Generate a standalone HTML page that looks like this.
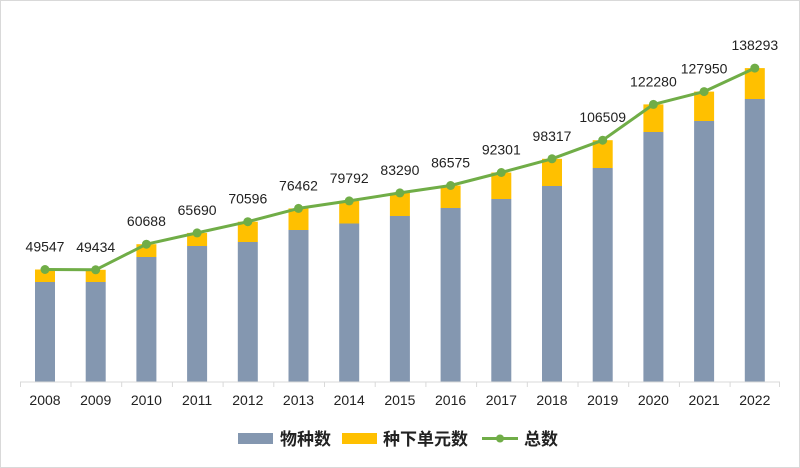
<!DOCTYPE html>
<html><head><meta charset="utf-8"><style>
html,body{margin:0;padding:0;background:#fff}
svg{display:block}
text{font-family:"Liberation Sans","Noto Sans CJK SC",sans-serif}
</style></head><body>
<svg width="800" height="468" viewBox="0 0 800 468" xmlns="http://www.w3.org/2000/svg">
<rect x="0.5" y="0.5" width="799" height="467" fill="#fff" stroke="#d9d9d9"/>
<g fill="#8497b0">
<rect x="35" y="282" width="20" height="100"/>
<rect x="85.7" y="282" width="20" height="100"/>
<rect x="136.4" y="257" width="20" height="125"/>
<rect x="187.1" y="246" width="20" height="136"/>
<rect x="237.8" y="242" width="20" height="140"/>
<rect x="288.5" y="230" width="20" height="152"/>
<rect x="339.2" y="223.5" width="20" height="158.5"/>
<rect x="389.9" y="216" width="20" height="166"/>
<rect x="440.6" y="208" width="20" height="174"/>
<rect x="491.3" y="199" width="20" height="183"/>
<rect x="542" y="186" width="20" height="196"/>
<rect x="592.7" y="168" width="20" height="214"/>
<rect x="643.4" y="132" width="20" height="250"/>
<rect x="694.1" y="121" width="20" height="261"/>
<rect x="744.8" y="99" width="20" height="283"/>
</g>
<g fill="#ffc000">
<rect x="35" y="269.5" width="20" height="12.5"/>
<rect x="85.7" y="269.8" width="20" height="12.2"/>
<rect x="136.4" y="244.2" width="20" height="12.8"/>
<rect x="187.1" y="232.9" width="20" height="13.1"/>
<rect x="237.8" y="221.7" width="20" height="20.3"/>
<rect x="288.5" y="208.4" width="20" height="21.6"/>
<rect x="339.2" y="200.9" width="20" height="22.6"/>
<rect x="389.9" y="192.9" width="20" height="23.1"/>
<rect x="440.6" y="185.5" width="20" height="22.5"/>
<rect x="491.3" y="172.5" width="20" height="26.5"/>
<rect x="542" y="158.8" width="20" height="27.2"/>
<rect x="592.7" y="140.2" width="20" height="27.8"/>
<rect x="643.4" y="104.4" width="20" height="27.6"/>
<rect x="694.1" y="91.6" width="20" height="29.4"/>
<rect x="744.8" y="68.1" width="20" height="30.9"/>
</g>
<g stroke="#d9d9d9" stroke-width="1">
<line x1="20" y1="382" x2="780" y2="382"/>
<line x1="20.5" y1="382" x2="20.5" y2="387"/>
<line x1="71" y1="382" x2="71" y2="387"/>
<line x1="121.7" y1="382" x2="121.7" y2="387"/>
<line x1="172.4" y1="382" x2="172.4" y2="387"/>
<line x1="223.1" y1="382" x2="223.1" y2="387"/>
<line x1="273.8" y1="382" x2="273.8" y2="387"/>
<line x1="324.5" y1="382" x2="324.5" y2="387"/>
<line x1="375.2" y1="382" x2="375.2" y2="387"/>
<line x1="425.9" y1="382" x2="425.9" y2="387"/>
<line x1="476.6" y1="382" x2="476.6" y2="387"/>
<line x1="527.3" y1="382" x2="527.3" y2="387"/>
<line x1="578" y1="382" x2="578" y2="387"/>
<line x1="628.7" y1="382" x2="628.7" y2="387"/>
<line x1="679.4" y1="382" x2="679.4" y2="387"/>
<line x1="730.1" y1="382" x2="730.1" y2="387"/>
<line x1="779.5" y1="382" x2="779.5" y2="387"/>
</g>
<polyline fill="none" stroke="#70ad47" stroke-width="3" stroke-linejoin="round" points="45,269.5 95.7,269.8 146.4,244.2 197.1,232.9 247.8,221.7 298.5,208.4 349.2,200.9 399.9,192.9 450.6,185.5 501.3,172.5 552,158.8 602.7,140.2 653.4,104.4 704.1,91.6 754.8,68.1"/>
<g fill="#70ad47">
<circle cx="45" cy="269.5" r="4.5"/><circle cx="95.7" cy="269.8" r="4.5"/><circle cx="146.4" cy="244.2" r="4.5"/><circle cx="197.1" cy="232.9" r="4.5"/><circle cx="247.8" cy="221.7" r="4.5"/><circle cx="298.5" cy="208.4" r="4.5"/><circle cx="349.2" cy="200.9" r="4.5"/><circle cx="399.9" cy="192.9" r="4.5"/><circle cx="450.6" cy="185.5" r="4.5"/><circle cx="501.3" cy="172.5" r="4.5"/><circle cx="552" cy="158.8" r="4.5"/><circle cx="602.7" cy="140.2" r="4.5"/><circle cx="653.4" cy="104.4" r="4.5"/><circle cx="704.1" cy="91.6" r="4.5"/><circle cx="754.8" cy="68.1" r="4.5"/>
</g>
<g font-size="14" fill="#222" text-anchor="middle">
<text x="45" y="251.5">49547</text>
<text x="95.7" y="251.8">49434</text>
<text x="146.4" y="226.2">60688</text>
<text x="197.1" y="214.9">65690</text>
<text x="247.8" y="203.7">70596</text>
<text x="298.5" y="190.4">76462</text>
<text x="349.2" y="182.9">79792</text>
<text x="399.9" y="174.9">83290</text>
<text x="450.6" y="167.5">86575</text>
<text x="501.3" y="154.5">92301</text>
<text x="552" y="140.8">98317</text>
<text x="602.7" y="122.2">106509</text>
<text x="653.4" y="86.4">122280</text>
<text x="704.1" y="73.6">127950</text>
<text x="754.8" y="50.1">138293</text>
</g>
<g font-size="14" fill="#222" text-anchor="middle">
<text x="45" y="405">2008</text><text x="95.7" y="405">2009</text><text x="146.4" y="405">2010</text><text x="197.1" y="405">2011</text><text x="247.8" y="405">2012</text><text x="298.5" y="405">2013</text><text x="349.2" y="405">2014</text><text x="399.9" y="405">2015</text><text x="450.6" y="405">2016</text><text x="501.3" y="405">2017</text><text x="552" y="405">2018</text><text x="602.7" y="405">2019</text><text x="653.4" y="405">2020</text><text x="704.1" y="405">2021</text><text x="754.8" y="405">2022</text>
</g>
<rect x="238" y="433" width="35" height="11" fill="#8497b0"/>
<rect x="342" y="433" width="35" height="11" fill="#ffc000"/>
<line x1="482" y1="438.5" x2="518" y2="438.5" stroke="#70ad47" stroke-width="3"/>
<circle cx="500" cy="438.5" r="4" fill="#70ad47"/>
<g font-size="17" font-weight="bold" fill="#222">
<text x="280" y="445">物种数</text>
<text x="383" y="445">种下单元数</text>
<text x="524" y="445">总数</text>
</g>
</svg>
</body></html>
